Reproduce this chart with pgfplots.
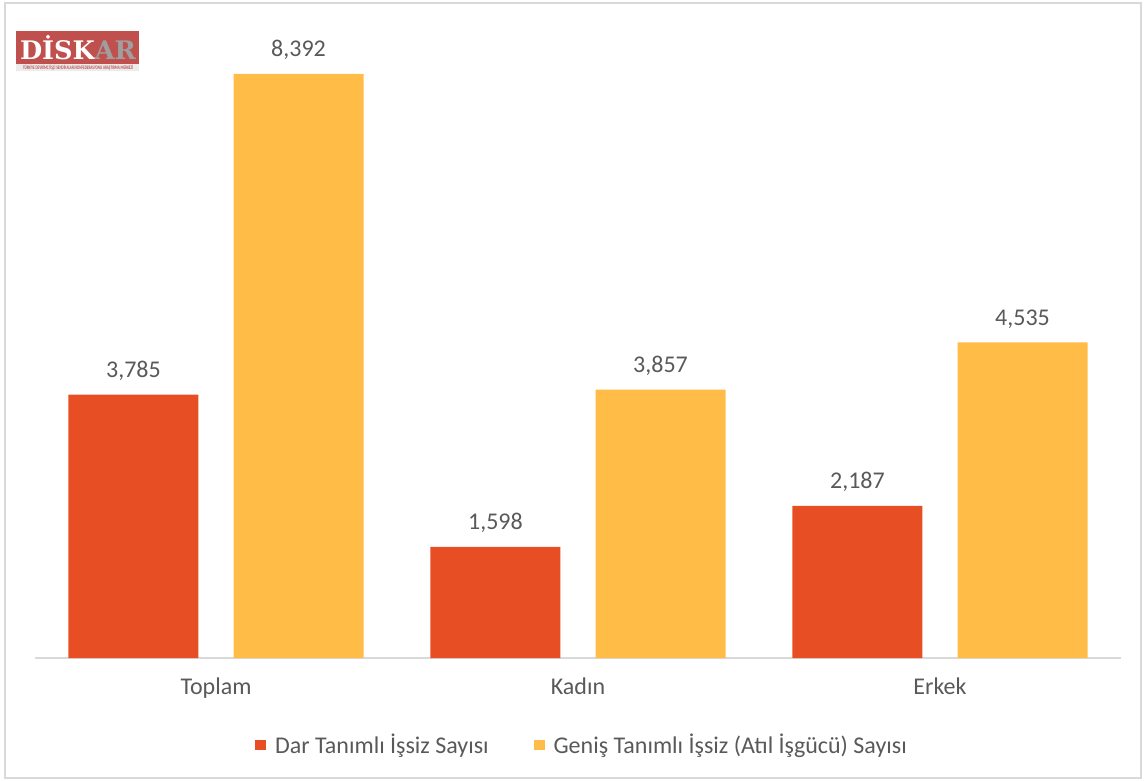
\documentclass[border=0pt]{standalone}
\usepackage{fontspec}
\setmainfont{Carlito}
\newfontfamily\logofont{DejaVu Serif}
\usepackage{graphicx}
\usepackage{pgfplots}
\pgfplotsset{compat=1.18}
\definecolor{cRed}{HTML}{E84E23}
\definecolor{cYel}{HTML}{FFBD48}
\definecolor{cTxt}{HTML}{595959}
\definecolor{cAx}{HTML}{D9D9D9}
\definecolor{cLogo}{HTML}{C0504D}
\begin{document}
\begin{tikzpicture}
\begin{scope}[x=0.5pt,y=-0.5pt]
\useasboundingbox (0,0) rectangle (1145,781);
\draw[cAx,line width=1pt] (5,3) rectangle (1141,778);
% logo
\fill[cLogo] (16,31) rectangle (139,64);
\fill[gray!15] (16,64) rectangle (139,71);
\node[inner sep=0pt] at (78,48) {\resizebox{58pt}{12pt}{\logofont\bfseries\textcolor{white}{DİSK}\textcolor{gray!75}{AR}}};
\node[inner sep=0pt] at (78,67.5) {\resizebox{55pt}{2.2pt}{\color{cLogo}\bfseries TÜRKİYE DEVRİMCİ İŞÇİ SENDİKALARI KONFEDERASYONU ARAŞTIRMA MERKEZİ}};
\end{scope}
\begin{axis}[
  at={(17.5pt,-329pt)}, anchor=south west,
  scale only axis, width=543pt, height=313.2pt,
  xmin=-0.5, xmax=2.5, ymin=0, ymax=9000,
  enlargelimits=false,
  hide y axis,
  axis x line=bottom,
  x axis line style={cAx, line width=1.2pt, -},
  xtick={0,1,2}, xticklabels={Toplam,Kadın,Erkek},
  major tick length=0pt,
  xticklabel style={cTxt, font=\fontsize{12}{14}\selectfont, yshift=-6.5pt},
  ybar, bar width=0.359,
  /pgf/number format/.cd, 1000 sep={,}, assume math mode=true, /pgfplots/.cd,
  nodes near coords,
  every node near coord/.append style={cTxt, font=\fontsize{12}{14}\selectfont, yshift=3.5pt},
  legend columns=2,
  legend style={at={(0.507,-0.139)}, anchor=center, draw=none, fill=none,
    font=\fontsize{12}{14}\selectfont, text=cTxt,
    nodes={inner xsep=4.5pt},
    /tikz/every even column/.append style={column sep=18pt}},
  legend image code/.code={\fill[#1] (0pt,-2.7pt) rectangle (5.4pt,2.7pt);},
]
\addplot[fill=cRed, draw=none, bar shift=-0.228] coordinates {(0,3785) (1,1598) (2,2187)};
\addplot[fill=cYel, draw=none, bar shift=0.228] coordinates {(0,8392) (1,3857) (2,4535)};
\legend{Dar Tanımlı İşsiz Sayısı, Geniş Tanımlı İşsiz (Atıl İşgücü) Sayısı}
\end{axis}
\end{tikzpicture}
\end{document}
